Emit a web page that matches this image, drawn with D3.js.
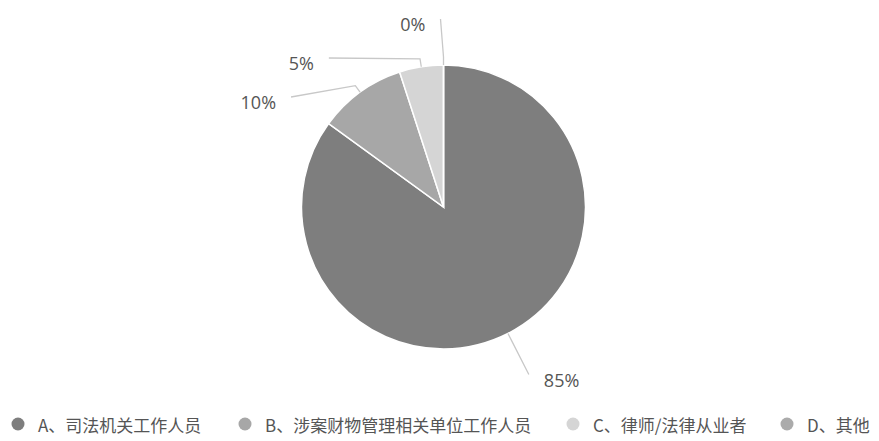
<!DOCTYPE html>
<html><head><meta charset="utf-8">
<script src="https://cdn.jsdelivr.net/npm/d3@7"></script>
<style>body{margin:0;background:#fff}svg{display:block}</style>
</head><body>
<svg id="c" width="879" height="441"></svg>
<script>
const categories = ["A、司法机关工作人员","B、涉案财物管理相关单位工作人员","C、律师/法律从业者","D、其他"];
const values = [85, 10, 5, 0];
const labels = ["85%","10%","5%","0%"];
const colors = ["#7e7e7e","#a7a7a7","#d5d5d5","#ababab"];

const svg = d3.select("#c");
const cx = 443.5, cy = 207, r = 142, lr = 188;
const font = "'Open Sans','Noto Sans CJK SC',sans-serif";

const pie = d3.pie().sort(null).value(d=>d.v);
const data = pie(values.map((v,i)=>({v,i})));
const arc = d3.arc().innerRadius(0).outerRadius(r);
const g = svg.append("g").attr("transform",`translate(${cx},${cy})`);
g.selectAll("path").data(data).join("path")
  .attr("d",arc).attr("fill",d=>colors[d.data.i])
  .attr("stroke","#fff").attr("stroke-width",1.5);

// label layout
const mid = d=>(d.startAngle+d.endAngle)/2;
const items = data.map(d=>{
  const a = mid(d);
  return {d, a, side: Math.sin(a) > 0.001 ? 1 : -1, y: -lr*Math.cos(a)};
});
const left = items.filter(o=>o.side<0).sort((a,b)=>a.y-b.y);
for(let k=1;k<left.length;k++) left[k].y = Math.max(left[k].y, left[k-1].y+39);
items.forEach(o=>{
  o.x = o.side*Math.sqrt(Math.max(0, lr*lr - o.y*o.y));
  if (o.side<0 && Math.abs(o.y)>=lr-1) o.x = -3;
});
items.forEach(o=>{
  const a=o.a;
  const p0=[r*Math.sin(a), -r*Math.cos(a)];
  const p1=[(r+8)*Math.sin(a), -(r+8)*Math.cos(a)];
  g.append("polyline")
    .attr("points",[p0,p1,[o.x,o.y]].map(p=>p.join(",")).join(" "))
    .attr("fill","none").attr("stroke","#c8c8c8").attr("stroke-width",1.3);
  g.append("text")
    .attr("x", o.x + o.side*15).attr("y", o.y + 5)
    .attr("text-anchor", o.side>0 ? "start":"end")
    .attr("dominant-baseline","central")
    .attr("font-family",font).attr("font-size",18).attr("fill","#555")
    .text(labels[o.d.data.i]);
});

// legend
const lx = [18, 245, 573, 787];
const lg = svg.append("g").attr("transform","translate(0,424)");
categories.forEach((c,i)=>{
  lg.append("circle").attr("cx",lx[i]).attr("cy",0).attr("r",6.5).attr("fill",colors[i]);
  lg.append("text").attr("x",lx[i]+20).attr("y",0).attr("dominant-baseline","central")
    .attr("font-family","'Noto Sans CJK SC',sans-serif").attr("font-size",17).attr("fill","#555")
    .text(c);
});
</script>
</body></html>
